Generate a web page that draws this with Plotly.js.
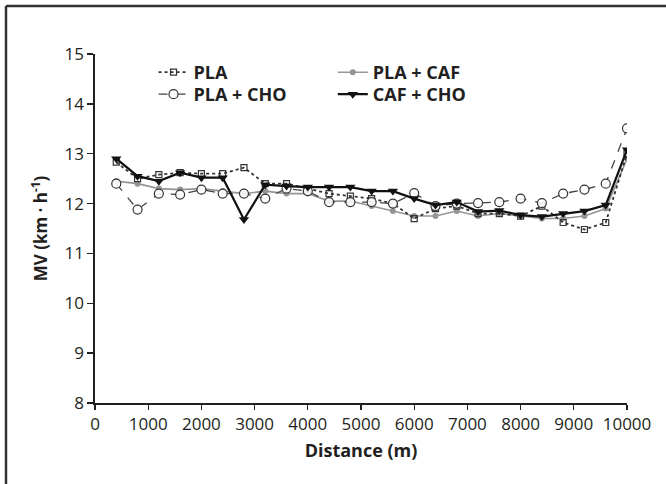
<!DOCTYPE html>
<html>
<head>
<meta charset="utf-8">
<script src="https://cdn.plot.ly/plotly-3.0.1.min.js"></script>
<style>html,body{margin:0;padding:0;background:#fff;}#chart{width:666px;height:484px;}</style>
</head>
<body>
<div id="chart"></div>
<script>
// Distance (m)
var distance = [400, 800, 1200, 1600, 2000, 2400, 2800, 3200, 3600, 4000, 4400, 4800, 5200,
                5600, 6000, 6400, 6800, 7200, 7600, 8000, 8400, 8800, 9200, 9600, 10000];
// Mean velocity (km·h-1)
var pla    = [12.83, 12.5, 12.58, 12.62, 12.6, 12.6, 12.72, 12.4, 12.4, 12.3, 12.2, 12.15, 12.1,
              12.0, 11.7, 11.9, 11.95, 11.8, 11.8, 11.75, 11.95, 11.62, 11.48, 11.62, 13.0];
var plaCho = [12.4, 11.88, 12.2, 12.18, 12.28, 12.2, 12.2, 12.1, 12.3, 12.25, 12.03, 12.03, 12.03,
              12.0, 12.21, 11.95, 12.0, 12.01, 12.03, 12.1, 12.01, 12.2, 12.28, 12.4, 13.51];
var plaCaf = [12.45, 12.4, 12.3, 12.28, 12.3, 12.25, 12.2, 12.25, 12.2, 12.2, 12.05, 12.05, 11.95,
              11.85, 11.75, 11.75, 11.85, 11.75, 11.8, 11.75, 11.7, 11.7, 11.75, 11.9, 12.9];
var cafCho = [12.9, 12.55, 12.45, 12.62, 12.52, 12.52, 11.68, 12.38, 12.35, 12.33, 12.33, 12.33, 12.25,
              12.25, 12.1, 11.97, 12.03, 11.84, 11.86, 11.77, 11.74, 11.8, 11.85, 11.97, 13.08];
var xTicks = [0, 1000, 2000, 3000, 4000, 5000, 6000, 7000, 8000, 9000, 10000];
var yTicks = [8, 9, 10, 11, 12, 13, 14, 15];

var traces = [
  {x: distance, y: plaCaf, name: 'PLA + CAF', mode: 'lines+markers', legend: 'legend2',
   line: {color: '#959595', width: 1.6},
   marker: {symbol: 'circle', size: 6, color: '#959595'}},
  {x: distance, y: pla, name: 'PLA', mode: 'lines+markers', legend: 'legend',
   line: {color: '#333', width: 1.8, dash: 'dot'},
   marker: {symbol: 'square-open', size: 6, color: '#333', line: {width: 1.2}}},
  {x: distance, y: plaCho, name: 'PLA + CHO', mode: 'lines+markers', legend: 'legend3',
   line: {color: '#444', width: 1.3, dash: 'dash'},
   marker: {symbol: 'circle', size: 9, color: 'rgba(255,255,255,0.9)', line: {color: '#333', width: 1.2}}},
  {x: distance, y: cafCho, name: 'CAF + CHO', mode: 'lines+markers', legend: 'legend4',
   line: {color: '#111', width: 2.2},
   marker: {symbol: 'triangle-down', size: 9, color: '#111'}}
];

var legFont = {family: 'Open Sans', size: 18, color: '#231f20', weight: 'bold'};
function leg(x, y) {
  return {x: x, y: y, xanchor: 'left', yanchor: 'middle', bgcolor: 'rgba(0,0,0,0)',
          borderwidth: 0, font: legFont, itemwidth: 30};
}

var layout = {
  width: 666, height: 484,
  margin: {l: 95, r: 39, t: 54, b: 81},
  paper_bgcolor: '#fff', plot_bgcolor: '#fff',
  showlegend: true,
  font: {family: 'Open Sans', color: '#231f20'},
  xaxis: {
    range: [0, 10000], tickvals: xTicks, ticktext: xTicks.map(String),
    showgrid: false, zeroline: false, showline: true, linecolor: '#231f20', linewidth: 1.6,
    ticks: 'outside', ticklen: 5, tickwidth: 1.4, tickcolor: '#231f20',
    tickfont: {family: 'Open Sans', size: 17, color: '#231f20'},
    title: {text: 'Distance (m)', standoff: 10,
            font: {family: 'Open Sans', size: 18, color: '#231f20', weight: 'bold'}}
  },
  yaxis: {
    range: [8, 15], tickvals: yTicks, ticktext: yTicks.map(String),
    showgrid: false, zeroline: false, showline: true, linecolor: '#231f20', linewidth: 1.6,
    ticks: 'outside', ticklen: 6, tickwidth: 1.4, tickcolor: '#231f20',
    tickfont: {family: 'Open Sans', size: 17, color: '#231f20'},
    title: {text: 'MV (km · h<sup>-1</sup>)', standoff: 12,
            font: {family: 'Open Sans', size: 17, color: '#231f20', weight: 'bold'}}
  },
  legend:  leg(0.11, 0.947),
  legend3: leg(0.11, 0.884),
  legend2: leg(0.447, 0.947),
  legend4: leg(0.447, 0.884),
  shapes: [
    {type: 'line', xref: 'paper', yref: 'paper', x0: -0.1673, x1: 1.08, y0: 1.1375, y1: 1.1375,
     line: {color: '#333', width: 2.5}},
    {type: 'line', xref: 'paper', yref: 'paper', x0: -0.1673, x1: -0.1673, y0: 1.1375, y1: -0.25,
     line: {color: '#333', width: 2.5}}
  ]
};

Plotly.newPlot('chart', traces, layout, {displayModeBar: false, staticPlot: true});
</script>
</body>
</html>
